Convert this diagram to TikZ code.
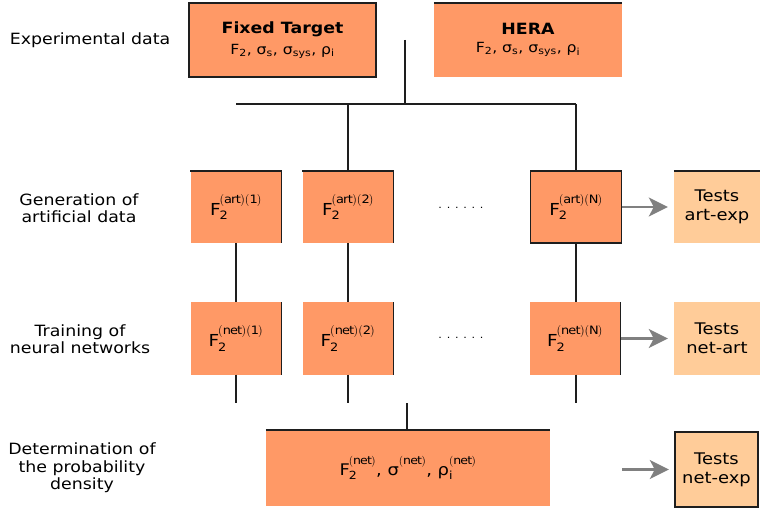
\documentclass[tikz,border=0pt]{standalone}
\usepackage{fontspec}
\setmainfont{DejaVu Sans}[FakeStretch=1.12]
\usetikzlibrary{arrows.meta}
\definecolor{boxor}{RGB}{255,153,102}
\definecolor{boxpe}{RGB}{255,204,153}
\definecolor{edgecol}{RGB}{30,30,30}
\definecolor{arrgray}{RGB}{128,128,128}
\newcommand\Fart[1]{$\mathrm{F}_{\mathrm{2}}^{\mathrm{(art)(#1)}}$}
\newcommand\Fnet[1]{$\mathrm{F}_{\mathrm{2}}^{\mathrm{(net)(#1)}}$}
\newcommand\mysb[1]{\textsubscript{#1}}
\begin{document}
\begin{tikzpicture}[x=1pt,y=-1pt,
  orbox/.style={rectangle,fill=boxor,draw=none,inner sep=0pt,align=center},
  pebox/.style={rectangle,fill=boxpe,draw=none,inner sep=0pt,align=center,
    font=\fontsize{16}{19}\selectfont},
  colbox/.style={orbox,minimum width=91,minimum height=72,font=\fontsize{16.5}{18}\selectfont},
  rowlabel/.style={align=center,font=\fontsize{15.5}{17.5}\selectfont},
  border/.style={draw=edgecol,line width=1.5pt},
  link/.style={draw=edgecol,line width=1.5pt},
  garrow/.style={draw=arrgray,line width=2.4pt,
    -{Stealth[length=19pt,width=19pt,inset=5pt]},shorten >=6pt},
  dots/.style={font=\fontsize{10}{12}\selectfont}
]
\useasboundingbox (0,0) rectangle (760,510);

% row labels
\node[rowlabel] (l1) at (90,40) {Experimental data};
\node[rowlabel] (l2) at (79,208) {Generation of\\artificial data};
\node[rowlabel] (l3) at (80,339) {Training of\\neural networks};
\node[rowlabel] (l4) at (82,468) {Determination of\\the probability\\density};

% experimental data
\node[orbox,minimum width=187,minimum height=74] (ft) at (282.5,40)
  {{\fontsize{15.5}{18}\selectfont\bfseries Fixed Target}\\[6pt]
   {\fontsize{14}{16}\selectfont F\mysb{2}, σ\mysb{s}, σ\mysb{sys}, ρ\mysb{i}}};
\draw[border] (ft.north west) rectangle (ft.south east);
\node[orbox,minimum width=188,minimum height=74] (hera) at (528,40)
  {{\fontsize{15.5}{18}\selectfont\bfseries HERA}\\[6pt]
   {\fontsize{14}{16}\selectfont F\mysb{2}, σ\mysb{s}, σ\mysb{sys}, ρ\mysb{i}}};
\draw[border] (hera.north west) -- (hera.north east);

% artificial data
\node[colbox] (a1) at (236,207) {\Fart{1}};
\node[colbox] (a2) at (348,207) {\Fart{2}};
\node[colbox] (aN) at (576,207) {\Fart{N}};
\node[dots] (d1) at (461,208) {. . . . . .};
\node[pebox,minimum width=86,minimum height=72] (ta) at (717,207) {Tests\\art-exp};
\draw[border] (a1.north west) -- (a1.north east) -- (a1.south east);
\draw[border] (a2.north west) -- (a2.north east) -- (a2.south east);
\draw[border] (aN.north west) rectangle (aN.south east);
\draw[border] (ta.north west) -- (ta.north east);

% neural networks
\node[colbox] (n1) at (236,338.5) {\Fnet{1}};
\node[colbox] (n2) at (348,338.5) {\Fnet{2}};
\node[colbox] (nN) at (575,338.5) {\Fnet{N}};
\node[dots] (d2) at (461,338) {. . . . . .};
\node[pebox,minimum width=86,minimum height=73] (tn) at (717,338.5) {Tests\\net-art};
\draw[border] (n1.north east) -- (n1.south east);
\draw[border] (n2.north east) -- (n2.south east);
\draw[border] (nN.north east) -- (nN.south east);

% probability density
\node[orbox,minimum width=284,minimum height=76,font=\fontsize{16}{18}\selectfont] (pd) at (408,468)
  {$\mathrm{F}_{\mathrm{2}}^{\mathrm{(net)}}$, $\mbox{σ}^{\mathrm{(net)}}$, $\mbox{ρ}_{\mathrm{i}}^{\mathrm{(net)}}$};
\draw[border] (pd.north west) -- (pd.north east);
\node[pebox,minimum width=83,minimum height=75] (te) at (716.5,469.5) {Tests\\net-exp};
\draw[border] (te.north west) rectangle (te.south east);

% connectors
\coordinate (top) at (405,40);
\coordinate (hub) at (405,104);
\coordinate (hl) at (236,104);
\coordinate (h2) at (348,104);
\coordinate (hN) at (576,104);
\draw[link] (top) -- (hub);
\draw[link] (hl) -- (hN);
\draw[link] (h2) -- (a2.north);
\draw[link] (hN) -- (aN.north);
\draw[link] (a1.south) -- (n1.north);
\draw[link] (a2.south) -- (n2.north);
\coordinate (nNtop) at (576,302.5);
\draw[link] (aN.south) -- (nNtop);
\coordinate (e1) at (236,403);
\coordinate (e2) at (348,403);
\coordinate (e3) at (576,403);
\coordinate (nNbot) at (576,374.5);
\draw[link] (n1.south) -- (e1);
\draw[link] (n2.south) -- (e2);
\draw[link] (nNbot) -- (e3);
\coordinate (pin) at (407,403);
\draw[link] (pin) -- (pd.north -| pin);

% test arrows
\draw[garrow] (aN.east) -- (ta.west);
\draw[garrow] (nN.east) -- (tn.west);
\coordinate (se) at (622,469.5);
\draw[garrow] (se) -- (te.west);
\end{tikzpicture}
\end{document}
